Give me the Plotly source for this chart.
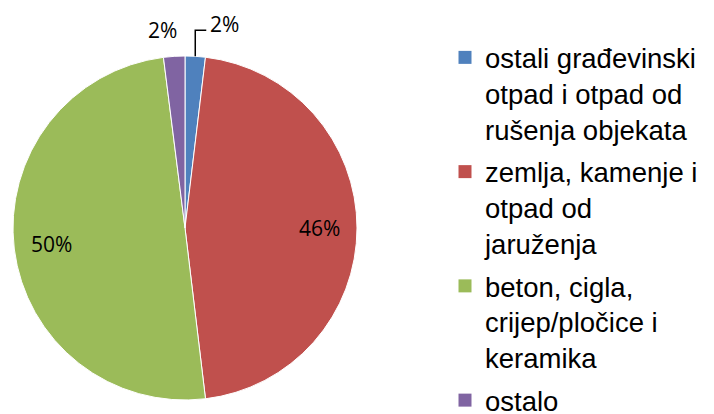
import math
import plotly.graph_objects as go

labels = ["ostali građevinski<br>otpad i otpad od<br>rušenja objekata",
          "zemlja, kamenje i<br>otpad od<br>jaruženja",
          "beton, cigla,<br>crijep/pločice i<br>keramika",
          "ostalo"]
values = [1.9, 46.2, 49.9, 2.0]
colors = ["#4F81BD", "#C0504D", "#9BBB59", "#8064A2"]

W, H = 714, 414
off = 8                    # page body margin that shifts the whole figure
cx, cy, R = 185, 228, 172  # pie centre / radius in on-screen pixels


def px(X):
    return (X - off) / W


def py(Y):
    return (H - (Y - off)) / H


fig = go.Figure()
fig.add_trace(go.Pie(
    labels=labels, values=values, sort=False, direction="clockwise", rotation=0,
    marker=dict(colors=colors, line=dict(color="white", width=1)),
    textposition="none",
    domain=dict(x=[px(cx - R), px(cx + R)], y=[py(cy + R), py(cy - R)]),
    automargin=False, showlegend=False,
))

label_font = dict(family="Open Sans", size=21, color="black")
total = sum(values)
cum = 0
mids = []
for v in values:
    mids.append((cum + v / 2) / total * 2 * math.pi)
    cum += v
pct = [f"{round(v / total * 100)}%" for v in values]

# inside labels (big slices)
for i in (1, 2):
    r = 0.78 * R
    X = cx + r * math.sin(mids[i])
    Y = cy - r * math.cos(mids[i])
    fig.add_annotation(x=px(X), y=py(Y), xref="paper", yref="paper",
                       xanchor="center", yanchor="middle", text=pct[i],
                       showarrow=False, font=label_font)

# outside label of the first small slice, with elbow leader line
rimX = cx + R * math.sin(mids[0])
rimY = cy - R * math.cos(mids[0])
elbowY = rimY - 26
endX = rimX + 11
fig.add_shape(type="path", xref="paper", yref="paper",
              path=f"M {px(rimX)},{py(rimY)} L {px(rimX)},{py(elbowY)} L {px(endX)},{py(elbowY)}",
              line=dict(color="black", width=1.5))
fig.add_annotation(x=px(endX + 2), y=py(elbowY - 6), xref="paper", yref="paper",
                   xanchor="left", yanchor="middle", text=pct[0],
                   showarrow=False, font=label_font)

# outside label of the last small slice
rimX = cx + R * math.sin(mids[3])
rimY = cy - R * math.cos(mids[3])
fig.add_annotation(x=px(rimX - 12), y=py(rimY - 26), xref="paper", yref="paper",
                   xanchor="center", yanchor="middle", text=pct[3],
                   showarrow=False, font=label_font)

# legend entries
for i, (lab, col) in enumerate(zip(labels, colors)):
    fig.add_trace(go.Scatter(
        x=[None], y=[None], mode="markers", name=lab, legendgroup=str(i),
        marker=dict(symbol="square", size=13, color=col, line=dict(width=0)),
    ))

fig.update_layout(
    width=W, height=H,
    margin=dict(l=0, r=0, t=0, b=0, autoexpand=False),
    paper_bgcolor="white", plot_bgcolor="white",
    xaxis=dict(visible=False), yaxis=dict(visible=False),
    legend=dict(x=437 / W, y=1 - 25 / H, xanchor="left", yanchor="top",
                valign="top", tracegroupgap=4, maxheight=600,
                font=dict(family="Liberation Sans", size=27.5, color="black"),
                itemclick=False, itemdoubleclick=False),
)
fig.write_html("out.html")
